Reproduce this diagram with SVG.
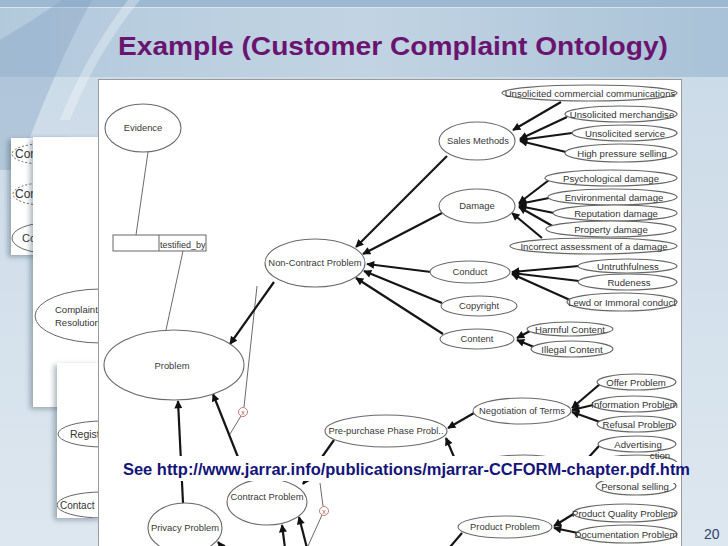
<svg xmlns="http://www.w3.org/2000/svg" width="728" height="546" viewBox="0 0 728 546">
<defs>
<linearGradient id="bgLow" x1="0" y1="0" x2="0" y2="1">
<stop offset="0" stop-color="#c9d9e7"/>
<stop offset="1" stop-color="#dde7ef"/>
</linearGradient>
<linearGradient id="bgTop" x1="0" y1="0" x2="1" y2="0">
<stop offset="0" stop-color="#b2c9dc"/>
<stop offset="0.5" stop-color="#c2d4e3"/>
<stop offset="1" stop-color="#a9c2d7"/>
</linearGradient>
<filter id="sh" x="-30%" y="-10%" width="150%" height="130%">
<feDropShadow dx="-3" dy="2" stdDeviation="2.5" flood-color="#203040" flood-opacity="0.35"/>
</filter>
<marker id="ah" viewBox="0 0 10 10" refX="9" refY="5" markerWidth="9" markerHeight="8" markerUnits="userSpaceOnUse" orient="auto">
<path d="M0,0 L10,5 L0,10 z" fill="#111"/>
</marker>
<clipPath id="pclip"><rect x="99" y="80" width="582" height="466"/></clipPath>
<clipPath id="aclip"><rect x="11" y="138" width="60" height="117"/></clipPath>
<clipPath id="bclip"><rect x="33" y="137" width="70" height="270"/></clipPath>
<clipPath id="cclip"><rect x="57" y="363" width="45" height="155"/></clipPath>
</defs>
<style>
.n ellipse{fill:#fff;stroke:#6a6a6a;stroke-width:1.1}
.n text{font-family:"Liberation Sans",Arial,sans-serif;font-size:9.4px;fill:#383838;text-anchor:middle}
.s ellipse{fill:#fff;stroke:#666;stroke-width:1.2}
.s text{font-family:"Liberation Sans",Arial,sans-serif;font-size:9.6px;fill:#333;text-anchor:middle}
.w text{font-family:"Liberation Sans",Arial,sans-serif;fill:#333}
.w ellipse{fill:#fff;stroke:#666;stroke-width:1}
.c line{stroke:#151515;stroke-width:2.2;marker-end:url(#ah)}
.c line.nm{marker-end:none}
.t{stroke:#6a6a6a;stroke-width:1;fill:none}
.x circle{fill:#fff;stroke:#c07c7c;stroke-width:1}
.x text{font-family:"Liberation Sans",Arial,sans-serif;font-size:7px;fill:#b05555;text-anchor:middle}
</style>

<!-- slide background -->
<rect x="0" y="0" width="728" height="546" fill="url(#bgLow)"/>
<rect x="0" y="0" width="728" height="77" fill="url(#bgTop)"/>
<rect x="0" y="0" width="728" height="7" fill="#9db9d1"/>
<line x1="0" y1="7.5" x2="728" y2="7.5" stroke="#e4eef5" stroke-width="1" opacity="0.7"/>
<path d="M92,0 C70,40 45,95 18,170 L0,170 L0,40 C25,25 45,12 62,0 Z" fill="#7d9fc0" opacity="0.35"/>
<path d="M140,0 C115,30 90,70 70,120 L60,120 C80,70 105,30 128,0 Z" fill="#ffffff" opacity="0.3"/>

<!-- title -->
<text x="118" y="55" font-family="'Liberation Sans',Arial,sans-serif" font-weight="bold" font-size="26" fill="#6a1470" textLength="550" lengthAdjust="spacingAndGlyphs">Example (Customer Complaint Ontology)</text>

<!-- window A -->
<g id="windowA">
<rect x="11" y="138" width="60" height="117" fill="#fff" filter="url(#sh)"/>
<g class="w" clip-path="url(#aclip)">
<ellipse cx="42" cy="154" rx="30" ry="10" stroke-dasharray="2,2"/>
<text x="15" y="158" font-size="12">Con</text>
<ellipse cx="43" cy="194" rx="30" ry="11" stroke-dasharray="2,2"/>
<text x="15" y="198" font-size="12">Con</text>
<ellipse cx="47" cy="238" rx="35" ry="15"/>
<text x="22" y="242" font-size="11">Co</text>
</g>
</g>

<!-- window B -->
<g id="windowB">
<rect x="33" y="137" width="70" height="270" fill="#fff" filter="url(#sh)"/>
<g class="w" clip-path="url(#bclip)">
<ellipse cx="101" cy="316" rx="66" ry="27"/>
<text x="55" y="313" font-size="9.5">Complaint</text>
<text x="55" y="326" font-size="9.5">Resolution</text>
</g>
</g>

<!-- window C -->
<g id="windowC">
<rect x="57" y="363" width="45" height="155" fill="#fff" filter="url(#sh)"/>
<g class="w" clip-path="url(#cclip)">
<ellipse cx="103" cy="434" rx="45" ry="13"/>
<text x="70" y="438" font-size="10.5">Regist</text>
<ellipse cx="102" cy="505" rx="45" ry="13"/>
<text x="60" y="509" font-size="10">Contact</text>
</g>
</g>

<!-- main panel -->
<rect x="98.5" y="79.5" width="583" height="470" fill="#fff" stroke="#9a9a9a" stroke-width="1"/>

<g clip-path="url(#pclip)">
<!-- thin connectors -->
<g id="thin-connectors">
<line class="t" x1="148" y1="152" x2="136" y2="235"/>
<line class="t" x1="183" y1="251" x2="166" y2="330"/>
<line class="t" x1="257" y1="286" x2="244" y2="407"/>
<line class="t" x1="241" y1="416" x2="230" y2="434"/>
<line class="t" x1="320" y1="483" x2="323" y2="506"/>
<line class="t" x1="322" y1="515" x2="308" y2="546"/>
</g>

<!-- thick connectors -->
<g id="connectors" class="c">
<line x1="447" y1="156" x2="356" y2="247"/>
<line x1="442" y1="213" x2="363" y2="254"/>
<line x1="431" y1="272" x2="367" y2="264"/>
<line x1="442" y1="303" x2="364" y2="271"/>
<line x1="443" y1="334" x2="356" y2="278"/>
<line x1="274" y1="282" x2="230" y2="344"/>
<line x1="183" y1="503" x2="178" y2="401"/>
<line x1="247" y1="480" x2="213" y2="394"/>
<line x1="334" y1="440" x2="303" y2="484"/>
<line x1="285" y1="548" x2="282" y2="525"/>
<line x1="307" y1="548" x2="299" y2="517"/>
<line x1="474" y1="413" x2="448" y2="428"/>
<line x1="454" y1="457" x2="446" y2="438"/>
<line class="nm" x1="462" y1="533" x2="450" y2="547"/>
<line x1="224" y1="550" x2="218" y2="542"/>
<line x1="561" y1="102" x2="513" y2="130"/>
<line x1="567" y1="117" x2="520" y2="139"/>
<line x1="572" y1="133" x2="520" y2="140"/>
<line x1="566" y1="152" x2="520" y2="141"/>
<line x1="549" y1="180" x2="519" y2="203"/>
<line x1="549" y1="198" x2="519" y2="204"/>
<line x1="554" y1="213" x2="519" y2="206"/>
<line x1="556" y1="228" x2="519" y2="207"/>
<line x1="542" y1="238" x2="512" y2="213"/>
<line x1="579" y1="266" x2="512" y2="272"/>
<line x1="579" y1="281" x2="512" y2="273"/>
<line x1="570" y1="300" x2="512" y2="274"/>
<line x1="530" y1="331" x2="517" y2="338"/>
<line x1="534" y1="347" x2="517" y2="340"/>
<line x1="600" y1="384" x2="572" y2="408"/>
<line x1="593" y1="405" x2="572" y2="410"/>
<line x1="600" y1="422" x2="572" y2="412"/>
<line x1="575" y1="513" x2="554" y2="526"/>
<line x1="578" y1="533" x2="554" y2="528"/>
<line class="nm" x1="599" y1="446" x2="588" y2="458"/>
</g>

<!-- relation markers -->
<g id="marker1" class="x"><circle cx="243" cy="412" r="4.5"/><text x="243" y="414.5">x</text></g>
<g id="marker2" class="x"><circle cx="324" cy="511" r="4.5"/><text x="324" y="513.5">x</text></g>

<!-- relation box -->
<g id="testified_by">
<rect x="113" y="235" width="93" height="16" fill="#fff" stroke="#666" stroke-width="1"/>
<line x1="159" y1="235" x2="159" y2="251" stroke="#666" stroke-width="1"/>
<text x="160" y="248" font-family="'Liberation Sans',Arial,sans-serif" font-size="9" fill="#333">testified_by</text>
</g>

<!-- main nodes -->
<g id="evidence" class="n"><ellipse cx="143" cy="128" rx="38" ry="24"/><text x="143" y="131">Evidence</text></g>
<g id="problem" class="n"><ellipse cx="174" cy="365" rx="70" ry="35"/><text x="172" y="369">Problem</text></g>
<g id="non-contract" class="n"><ellipse cx="315" cy="263" rx="50" ry="24"/><text x="315" y="266">Non-Contract Problem</text></g>
<g id="sales-methods" class="n"><ellipse cx="477" cy="141" rx="38" ry="19"/><text x="478" y="144">Sales Methods</text></g>
<g id="damage" class="n"><ellipse cx="477" cy="206" rx="38" ry="17"/><text x="477" y="209">Damage</text></g>
<g id="conduct" class="n"><ellipse cx="470" cy="272" rx="40" ry="11"/><text x="470" y="275">Conduct</text></g>
<g id="copyright" class="n"><ellipse cx="479" cy="306" rx="38" ry="10"/><text x="479" y="309">Copyright</text></g>
<g id="content" class="n"><ellipse cx="477" cy="339" rx="37" ry="10"/><text x="477" y="342">Content</text></g>
<g id="negotiation" class="n"><ellipse cx="522" cy="411" rx="49" ry="13"/><text x="522" y="414">Negotiation of Terms</text></g>
<g id="pre-purchase" class="n"><ellipse cx="386" cy="431" rx="61" ry="16"/><text x="386" y="434">Pre-purchase Phase Probl..</text></g>
<g id="hidden-node" class="n"><ellipse cx="523" cy="467" rx="50" ry="12"/></g>
<g id="contract" class="n"><ellipse cx="267" cy="502" rx="40" ry="23"/><text x="267" y="500">Contract Problem</text></g>
<g id="privacy" class="n"><ellipse cx="185" cy="528" rx="37" ry="25"/><text x="185" y="531">Privacy Problem</text></g>
<g id="product" class="n"><ellipse cx="505" cy="527" rx="47" ry="11"/><text x="505" y="530">Product Problem</text></g>

<!-- sub nodes -->
<g id="ucc" class="s"><ellipse cx="589.5" cy="93" rx="87.5" ry="8"/><text x="590" y="96.5">Unsolicited commercial communications</text></g>
<g id="um" class="s"><ellipse cx="621" cy="114" rx="56" ry="8"/><text x="622" y="117.5">Unsolicited merchandise</text></g>
<g id="us" class="s"><ellipse cx="624.5" cy="133" rx="52.5" ry="8"/><text x="625" y="136.5">Unsolicited service</text></g>
<g id="hps" class="s"><ellipse cx="621" cy="153" rx="56" ry="9"/><text x="622" y="156.5">High pressure selling</text></g>
<g id="psych" class="s"><ellipse cx="611" cy="178" rx="66" ry="8"/><text x="611" y="181.5">Psychological damage</text></g>
<g id="env" class="s"><ellipse cx="612.5" cy="197" rx="64.5" ry="8"/><text x="614" y="200.5">Environmental damage</text></g>
<g id="rep" class="s"><ellipse cx="615" cy="213" rx="62" ry="8"/><text x="616" y="216.5">Reputation damage</text></g>
<g id="prop" class="s"><ellipse cx="611" cy="229" rx="65" ry="8"/><text x="611" y="232.5">Property damage</text></g>
<g id="incorrect" class="s"><ellipse cx="593.5" cy="246" rx="83.5" ry="8"/><text x="594" y="249.5">Incorrect assessment of a damage</text></g>
<g id="untruth" class="s"><ellipse cx="627.5" cy="266" rx="49.5" ry="7"/><text x="628" y="269.5">Untruthfulness</text></g>
<g id="rude" class="s"><ellipse cx="627.5" cy="282" rx="49.5" ry="8"/><text x="629" y="285.5">Rudeness</text></g>
<g id="lewd" class="s"><ellipse cx="622" cy="302" rx="55" ry="9"/><text x="622" y="305.5">Lewd or Immoral conduct</text></g>
<g id="harmful" class="s"><ellipse cx="570" cy="329" rx="43" ry="7"/><text x="570" y="332.5">Harmful Content</text></g>
<g id="illegal" class="s"><ellipse cx="572" cy="349" rx="41" ry="8"/><text x="572" y="352.5">Illegal Content</text></g>
<g id="offer" class="s"><ellipse cx="636.5" cy="382" rx="39.5" ry="8"/><text x="636" y="385.5">Offer Problem</text></g>
<g id="info" class="s"><ellipse cx="634" cy="404" rx="42" ry="8"/><text x="634.5" y="407.5">Information Problem</text></g>
<g id="refusal" class="s"><ellipse cx="636.5" cy="424" rx="39.5" ry="8"/><text x="638" y="427.5">Refusal Problem</text></g>
<g id="advertising" class="s"><ellipse cx="637" cy="444" rx="39" ry="8"/><text x="638" y="447.5">Advertising</text></g>
<g id="promotion" class="s"><ellipse cx="637" cy="463" rx="40" ry="8"/><text x="660" y="458.5" font-size="7.5">ction</text></g>
<g id="personal" class="s"><ellipse cx="636" cy="486" rx="40" ry="9"/><text x="635" y="489.5">Personal selling</text></g>
<g id="pqp" class="s"><ellipse cx="625" cy="513" rx="52" ry="9"/><text x="624" y="516.5">Product Quality Problem</text></g>
<g id="doc" class="s"><ellipse cx="626.5" cy="534" rx="50.5" ry="9"/><text x="626" y="537.5">Documentation Problem</text></g>

<!-- caption band -->
<rect x="99" y="456" width="547" height="25" fill="#fff"/>
<rect x="646" y="462" width="35" height="21" fill="#fff"/>
</g>

<text x="123" y="475" font-family="'Liberation Sans',Arial,sans-serif" font-weight="bold" font-size="16" fill="#14147a" textLength="567" lengthAdjust="spacingAndGlyphs">See http://www.jarrar.info/publications/mjarrar-CCFORM-chapter.pdf.htm</text>

<text x="704" y="539" font-family="'Liberation Sans',Arial,sans-serif" font-size="14" fill="#34406e">20</text>
</svg>
